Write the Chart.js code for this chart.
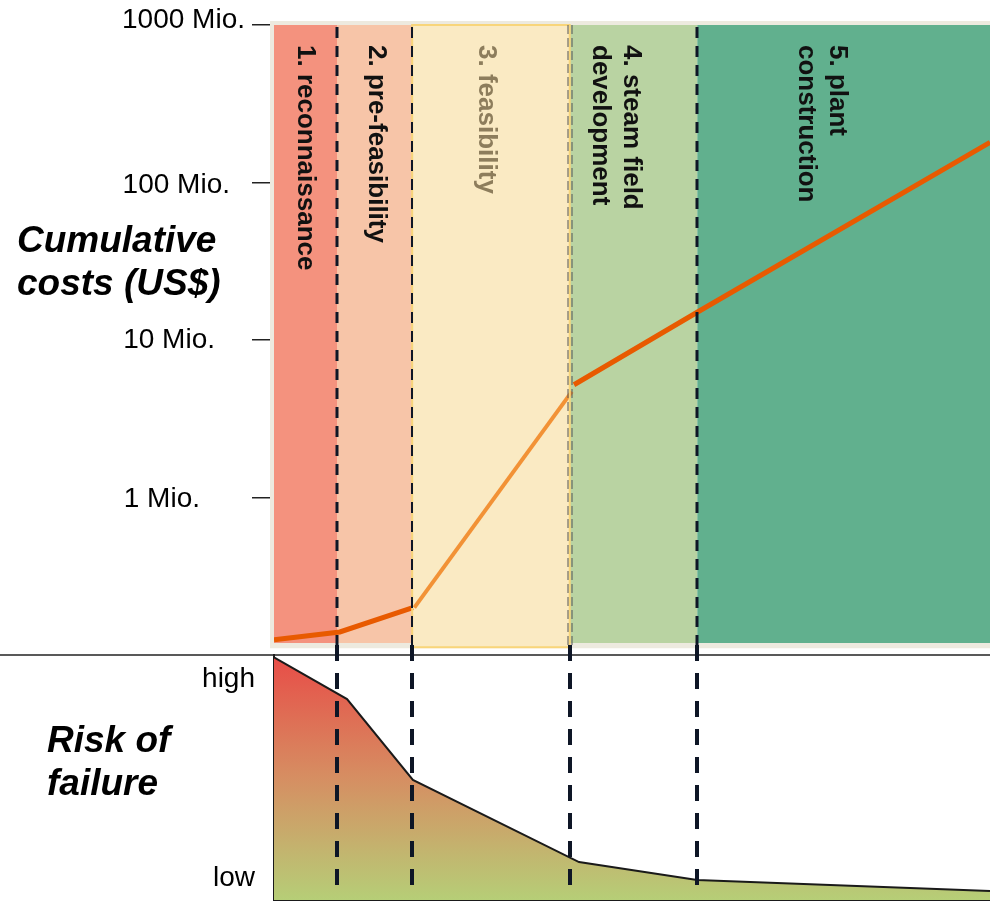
<!DOCTYPE html>
<html>
<head>
<meta charset="utf-8">
<script src="https://cdn.jsdelivr.net/npm/chart.js@4.4.1/dist/chart.umd.min.js"></script>
<style>
  html, body { margin: 0; padding: 0; background: #fff; }
  #wrap { width: 990px; height: 901px; position: relative; }
</style>
</head>
<body>
<div id="wrap"><canvas id="chart"></canvas></div>
<script>
// phases along the project timeline (x runs 0..100)
const PHASES = ['1. reconnaissance', '2. pre-feasibility', '3. feasibility', '4. steam field\ndevelopment', '5. plant\nconstruction'];
const PHASE_EDGES = [0, 8.8, 19.3, 41.3, 59.1, 100];

// cumulative cost line, three pieces
const COST_EARLY_X = [0, 9.2, 19.4];
const COST_EARLY = [125000, 140000, 200000];
const COST_FEAS_X = [19.6, 41.6];
const COST_FEAS = [200000, 4700000];
const COST_LATE_X = [41.9, 59.1, 100];
const COST_LATE = [5200000, 15000000, 180000000];

const COST_TICKS = [1e6, 1e7, 1e8, 1e9];
const COST_TICK_LABELS = ['1 Mio.', '10 Mio.', '100 Mio.', '1000 Mio.'];

// risk of failure (0 = none, 100 = max)
const RISK_X = [0, 10.2, 19.4, 42.6, 59.1, 100];
const RISK = [99, 82, 49, 15.5, 8.2, 3.7];
const RISK_TICKS = [9, 90];
const RISK_TICK_LABELS = ['low', 'high'];

const PHASE_COLORS = ['#F4927E', '#F7C5A8', '#FAEAC3', '#B9D3A2', '#61B08E'];
const PHASE_TEXT = ['#111', '#111', '#8D7D5C', '#111', '#111'];
const LABEL_SHIFT = [0, 2, -5, -18, -22];
const FONT = '"Liberation Sans", Arial, Helvetica, sans-serif';
const INK = '#0E1626';

function pts(xs, ys) { return xs.map((x, i) => ({ x: x, y: ys[i] })); }

const bands = PHASES.map((name, i) => ({
  label: name,
  data: [{ x: PHASE_EDGES[i], y: 1e9 }, { x: PHASE_EDGES[i + 1], y: 1e9 }],
  yAxisID: 'cost',
  fill: { value: i === 2 ? 112000 : 119000 },
  backgroundColor: PHASE_COLORS[i],
  borderWidth: 0,
  pointRadius: 0,
  order: 10
}));

function noPad(s) {
  s.paddingTop = 0; s.paddingBottom = 0; s.paddingLeft = 0; s.paddingRight = 0;
}

const overlay = {
  id: 'overlay',
  beforeDatasetsDraw(chart) {
    const { ctx } = chart;
    const x = chart.scales.x, c = chart.scales.cost, r = chart.scales.risk;
    ctx.save();
    // pale frame behind the phase bands
    ctx.fillStyle = '#EDEADF';
    const fb = c.getPixelForValue(112000) + 1;
    ctx.fillRect(x.left - 4, c.top - 4, x.right - x.left + 4, fb - c.top + 4);
    // separator between the two panels
    ctx.strokeStyle = '#222';
    ctx.lineWidth = 1.5;
    ctx.beginPath();
    ctx.moveTo(0, r.top);
    ctx.lineTo(chart.width, r.top);
    ctx.stroke();
    ctx.restore();
  },
  afterDatasetsDraw(chart) {
    const { ctx } = chart;
    const x = chart.scales.x, c = chart.scales.cost, r = chart.scales.risk;
    ctx.save();
    // feasibility outline
    const fx0 = x.getPixelForValue(PHASE_EDGES[2]), fx1 = x.getPixelForValue(PHASE_EDGES[3]);
    ctx.strokeStyle = '#F8D57A';
    ctx.lineWidth = 2;
    ctx.strokeRect(fx0, c.top, fx1 - fx0, c.getPixelForValue(112000) - c.top);

    // phase boundaries
    for (let i = 1; i < PHASE_EDGES.length - 1; i++) {
      const px = Math.round(x.getPixelForValue(PHASE_EDGES[i]));
      if (i === 3) {
        ctx.strokeStyle = '#555';
        ctx.lineWidth = 1;
        ctx.setLineDash([9, 4]);
        [-2, 2].forEach(d => {
          ctx.beginPath();
          ctx.moveTo(px + d, c.top);
          ctx.lineTo(px + d, r.top - 8);
          ctx.stroke();
        });
      } else {
        ctx.strokeStyle = INK;
        ctx.lineWidth = i === 2 ? 2 : 3;
        ctx.setLineDash([11, 8]);
        ctx.beginPath();
        ctx.moveTo(px, c.top + 2);
        ctx.lineTo(px, r.top - 8);
        ctx.stroke();
      }
      ctx.strokeStyle = INK;
      ctx.lineWidth = 4;
      ctx.setLineDash([16, 12]);
      ctx.beginPath();
      ctx.moveTo(px, r.top - 10);
      ctx.lineTo(px, r.bottom - 4);
      ctx.stroke();
    }
    ctx.setLineDash([]);

    // phase names, rotated
    ctx.font = 'bold 26px ' + FONT;
    ctx.textAlign = 'left';
    ctx.textBaseline = 'middle';
    PHASES.forEach((name, i) => {
      const cx = (x.getPixelForValue(PHASE_EDGES[i]) + x.getPixelForValue(PHASE_EDGES[i + 1])) / 2 + LABEL_SHIFT[i];
      const lines = name.split('\n');
      ctx.save();
      ctx.translate(cx, c.top + 20);
      ctx.rotate(Math.PI / 2);
      ctx.fillStyle = PHASE_TEXT[i];
      lines.forEach((ln, k) => {
        ctx.fillText(ln, 0, (k - (lines.length - 1) / 2) * 31);
      });
      ctx.restore();
    });
    ctx.restore();
  },
  afterDraw(chart) {
    const { ctx } = chart;
    const c = chart.scales.cost;
    ctx.save();
    ctx.fillStyle = '#000';
    ctx.font = '28px ' + FONT;
    ctx.textAlign = 'right';
    ctx.textBaseline = 'middle';
    const gaps = [74, 59, 44, 29];
    const lift = [-2, 0, -3, 5];
    COST_TICKS.forEach((v, i) => {
      ctx.fillText(COST_TICK_LABELS[i], c.right - gaps[i], c.getPixelForValue(v) - lift[i]);
    });
    ctx.textAlign = 'left';
    ctx.textBaseline = 'alphabetic';
    ctx.font = 'italic bold 37px ' + FONT;
    ctx.fillText('Cumulative', 17, 252);
    ctx.fillText('costs (US$)', 17, 295);
    ctx.fillText('Risk of', 47, 752);
    ctx.fillText('failure', 47, 795);
    ctx.restore();
  }
};

new Chart(document.getElementById('chart'), {
  type: 'line',
  data: {
    datasets: bands.concat([
      {
        label: 'cost early',
        data: pts(COST_EARLY_X, COST_EARLY),
        yAxisID: 'cost',
        borderColor: '#E85A00',
        borderWidth: 5,
        pointRadius: 0,
        fill: false,
        order: 1
      },
      {
        label: 'cost feasibility',
        data: pts(COST_FEAS_X, COST_FEAS),
        yAxisID: 'cost',
        borderColor: '#F29236',
        borderWidth: 4,
        pointRadius: 0,
        fill: false,
        order: 1
      },
      {
        label: 'cost late',
        data: pts(COST_LATE_X, COST_LATE),
        yAxisID: 'cost',
        borderColor: '#E85A00',
        borderWidth: 5,
        pointRadius: 0,
        fill: false,
        order: 1
      },
      {
        label: 'risk of failure',
        data: pts(RISK_X, RISK),
        yAxisID: 'risk',
        borderColor: '#1a1a1a',
        borderWidth: 2,
        pointRadius: 0,
        fill: 'start',
        order: 2,
        backgroundColor: (ctx) => {
          const s = ctx.chart.scales.risk;
          if (!ctx.chart.chartArea || !s || !isFinite(s.top) || !isFinite(s.bottom) || s.bottom <= s.top) return '#D4955F';
          const g = ctx.chart.ctx.createLinearGradient(0, s.top, 0, s.bottom);
          g.addColorStop(0, '#E84C47');
          g.addColorStop(0.5, '#D68E62');
          g.addColorStop(1, '#B6CE77');
          return g;
        }
      }
    ])
  },
  options: {
    responsive: true,
    maintainAspectRatio: false,
    animation: false,
    layout: { padding: { top: 25, right: 0, bottom: 1, left: 0 } },
    plugins: { legend: { display: false }, tooltip: { enabled: false } },
    scales: {
      x: {
        type: 'linear', min: 0, max: 100,
        afterFit: (s) => { s.height = 0; noPad(s); },
        ticks: { display: false },
        grid: { display: false, drawTicks: false },
        border: { display: true, color: '#1a1a1a', width: 2 }
      },
      risk: {
        type: 'linear', position: 'left', stack: 'panels', stackWeight: 245,
        min: 0, max: 100,
        afterBuildTicks: (s) => { s.ticks = RISK_TICKS.map(v => ({ value: v })); },
        afterFit: (s) => { s.width = 274; noPad(s); },
        ticks: {
          color: '#000', padding: 19, font: { family: FONT, size: 28 },
          callback: (v) => RISK_TICK_LABELS[RISK_TICKS.indexOf(v)]
        },
        grid: { display: false, drawTicks: false },
        border: { display: true, color: '#1a1a1a', width: 2 }
      },
      cost: {
        type: 'logarithmic', position: 'left', stack: 'panels', stackWeight: 630,
        min: 1e5, max: 1e9,
        afterBuildTicks: (s) => { s.ticks = COST_TICKS.map(v => ({ value: v })); },
        afterFit: (s) => { s.width = 274; noPad(s); },
        ticks: { display: false },
        grid: { display: true, drawOnChartArea: false, drawTicks: true, tickLength: 22, color: '#222', lineWidth: 1.5 },
        border: { display: false }
      }
    }
  },
  plugins: [overlay]
});
</script>
</body>
</html>
